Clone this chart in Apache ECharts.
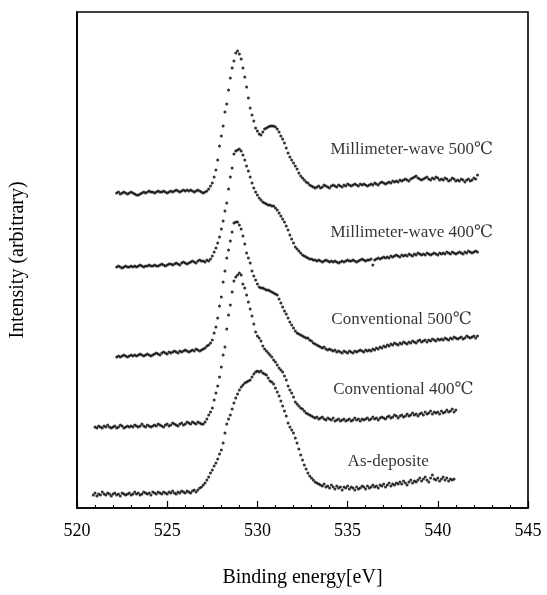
<!DOCTYPE html>
<html>
<head>
<meta charset="utf-8">
<title>XPS O1s</title>
<script src="https://cdn.jsdelivr.net/npm/echarts@6/dist/echarts.min.js"></script>
<style>
  html, body { margin: 0; padding: 0; background: #fff; }
  #chart { width: 547px; height: 595px; }
</style>
</head>
<body>
<div id="chart"></div>
<script>
// spectra sampled every 0.1 eV, stacked with offsets (arbitrary units)
const seriesNames = ["Millimeter-wave 500℃", "Millimeter-wave 400℃", "Conventional 500℃", "Conventional 400℃", "As-deposite"];
const energyStart = [522.2, 522.2, 522.2, 521.0, 520.9];
const energyStep = 0.1;

const mw500 = [
  315,316,314,315,316,315,314,315,316,315,
  314,313,313,314,315,316,315,316,317,316,
  316,315,316,317,316,316,317,316,315,316,
  317,316,317,318,317,316,317,318,317,318,
  317,318,317,316,317,318,317,316,315,316,
  317,319,322,325,331,338,348,362,372,382,
  396,404,418,430,440,447,455,457,454,449,
  440,431,421,410,400,393,387,380,377,374,
  373,376,379,380,381,382,382,382,381,379,
  376,372,369,365,360,355,351,348,345,342,
  339,335,332,330,328,326,325,323,322,321,
  320,321,322,320,321,323,322,321,320,322,
  323,322,321,323,322,321,323,322,324,323,
  322,323,324,323,322,324,323,324,323,322,
  323,324,323,325,324,323,325,326,325,324,
  325,326,325,327,326,327,326,328,327,328,
  329,328,327,329,330,331,332,330,329,328,
  329,330,331,329,328,330,329,331,330,328,
  329,328,330,329,327,328,330,329,327,328,
  327,329,328,326,328,329,327,328,330,329,333
];

const mw400 = [
  241,242,241,240,241,242,241,241,242,241,
  242,241,242,243,242,241,242,242,243,242,
  242,243,242,242,243,244,243,242,243,244,
  244,243,244,245,244,243,245,246,245,244,
  245,246,247,246,245,247,248,247,247,246,
  248,247,249,252,256,260,265,271,279,287,
  297,305,319,331,340,354,357,358,359,357,
  353,348,342,337,331,325,320,316,313,310,
  308,306,305,304,303,303,302,302,300,298,
  295,292,289,286,282,278,273,269,265,261,
  259,257,255,253,252,251,250,249,249,248,
  248,247,248,247,246,247,248,247,246,247,
  246,247,246,245,246,247,246,247,248,247,
  247,248,247,246,247,248,249,248,247,248,
  248,249,243,248,249,250,249,250,251,250,
  251,250,252,251,252,253,252,251,253,252,
  253,252,254,253,252,254,253,255,254,253,
  254,253,255,254,253,254,255,254,253,255,
  254,255,254,256,255,254,256,255,254,255,
  256,255,254,256,255,257,256,255,256,257,256
];

const conv500 = [
  151,152,151,152,153,152,151,152,153,152,
  153,152,153,154,153,152,153,154,153,152,
  153,154,155,154,153,155,156,155,154,156,
  155,156,157,156,155,157,156,157,158,157,
  156,157,158,157,159,158,157,158,159,160,
  162,163,165,168,175,181,190,202,211,226,
  237,250,258,267,276,285,286,286,283,279,
  272,264,255,250,245,237,232,228,224,221,
  220,220,219,218,218,217,216,215,214,213,
  209,205,201,197,194,190,186,183,180,177,
  175,174,173,172,171,170,170,168,167,165,
  164,163,162,161,160,161,159,158,159,158,
  157,158,156,157,156,155,157,156,155,157,
  156,155,157,156,157,158,157,156,158,157,
  158,157,159,158,160,159,161,160,162,161,
  163,162,164,163,165,164,163,165,164,166,
  165,164,166,165,167,166,165,167,168,166,
  167,168,166,168,167,169,168,167,169,168,
  169,168,170,169,168,170,169,171,170,169,
  170,171,169,170,172,171,170,171,172,170,172
];

const conv400 = [
  81,80,82,81,80,82,81,83,81,80,
  81,82,80,81,83,82,80,81,82,81,
  82,81,83,82,81,82,84,82,81,83,
  82,81,82,83,82,84,83,82,81,83,
  84,82,83,85,84,83,82,84,85,83,
  84,86,85,84,86,85,84,86,85,84,
  84,86,89,93,96,100,108,115,122,131,
  141,153,161,179,193,203,216,227,231,233,
  235,233,224,220,213,206,199,192,184,176,
  172,170,167,162,159,157,155,153,151,148,
  146,143,140,138,136,132,128,122,118,115,
  111,106,104,102,100,99,97,95,94,93,
  92,91,90,91,89,90,91,89,88,90,
  89,88,90,87,88,89,87,88,89,87,
  88,89,87,88,90,88,89,87,89,88,
  89,90,88,89,91,89,90,88,90,91,
  90,89,91,92,90,91,93,92,90,92,
  93,91,92,94,92,93,95,93,94,92,
  94,95,93,96,94,95,97,94,96,95,
  96,94,97,95,96,98,96,97,99,96,98
];

const asDep = [
  13,15,12,14,13,16,14,13,15,14,
  12,14,15,13,14,12,15,14,13,14,
  15,13,14,16,14,15,13,14,16,15,
  14,15,13,16,15,14,16,15,14,16,
  15,14,16,15,17,15,14,16,15,17,
  16,15,17,16,15,17,18,16,18,20,
  21,23,25,28,31,35,38,42,45,49,
  54,58,65,75,84,89,93,99,105,110,
  114,118,121,123,125,126,127,128,131,134,
  136,137,136,137,135,134,133,130,127,126,
  124,120,116,112,107,102,97,92,85,81,
  78,75,70,65,59,53,48,43,39,35,
  32,30,28,26,25,24,23,22,24,21,
  22,20,23,21,19,22,20,21,18,21,
  20,22,19,21,20,18,21,19,20,22,
  21,19,22,20,21,23,21,22,20,23,
  22,24,21,23,25,22,24,23,25,24,
  26,24,27,25,23,26,28,25,27,26,
  28,30,27,29,31,28,26,30,33,29,
  28,30,27,29,31,28,30,27,29,28,29
];

const spectra = [mw500, mw400, conv500, conv400, asDep];

// where the curve names sit (energy, intensity)
const labelEnergy = [534.05, 534.05, 534.1, 534.2, 535.0];
const labelLevel = [358, 275, 188, 118, 46];

const xTicks = [520, 525, 530, 535, 540, 545];

const chart = echarts.init(document.getElementById("chart"), null, { renderer: "canvas" });

const serif = "'Liberation Serif', 'Times New Roman', 'DejaVu Serif', serif";

const series = spectra.map((vals, k) => ({
  name: seriesNames[k],
  type: "scatter",
  symbol: "circle",
  symbolSize: 3,
  itemStyle: { color: "#000" },
  silent: true,
  animation: false,
  data: vals.map((v, i) => [+(energyStart[k] + i * energyStep).toFixed(2), v])
}));

series.push({
  type: "scatter",
  symbolSize: 0,
  silent: true,
  animation: false,
  label: {
    show: true,
    position: "right",
    distance: 0,
    formatter: (p) => p.name,
    color: "#000",
    fontFamily: serif,
    fontSize: 17
  },
  data: seriesNames.map((n, k) => ({ name: n, value: [labelEnergy[k], labelLevel[k]] }))
});

chart.setOption({
  backgroundColor: "#fff",
  animation: false,
  grid: {
    left: 76, right: 19, top: 12, bottom: 87,
    show: true, borderColor: "#000", borderWidth: 1.6, backgroundColor: "transparent"
  },
  xAxis: {
    type: "value",
    min: xTicks[0],
    max: xTicks[xTicks.length - 1],
    interval: 5,
    name: "Binding energy[eV]",
    nameLocation: "middle",
    nameGap: 60,
    nameTextStyle: { fontFamily: serif, fontSize: 20, color: "#000" },
    axisLine: { show: true, onZero: false, lineStyle: { color: "#000", width: 1.6 } },
    axisTick: { show: true, inside: true, length: 7, lineStyle: { color: "#000", width: 1.2 } },
    minorTick: { show: true, splitNumber: 5, length: 3, lineStyle: { color: "#000", width: 1 } },
    axisLabel: { margin: 14, fontFamily: serif, fontSize: 18, color: "#000" },
    splitLine: { show: false }
  },
  yAxis: {
    type: "value",
    min: 0,
    max: 496,
    name: "Intensity (arbitrary)",
    nameLocation: "middle",
    nameGap: 49,
    nameTextStyle: { fontFamily: serif, fontSize: 20, color: "#000" },
    axisLine: { show: true, lineStyle: { color: "#000", width: 1.6 } },
    axisTick: { show: false },
    axisLabel: { show: false },
    splitLine: { show: false }
  },
  series: series
});
</script>
</body>
</html>
